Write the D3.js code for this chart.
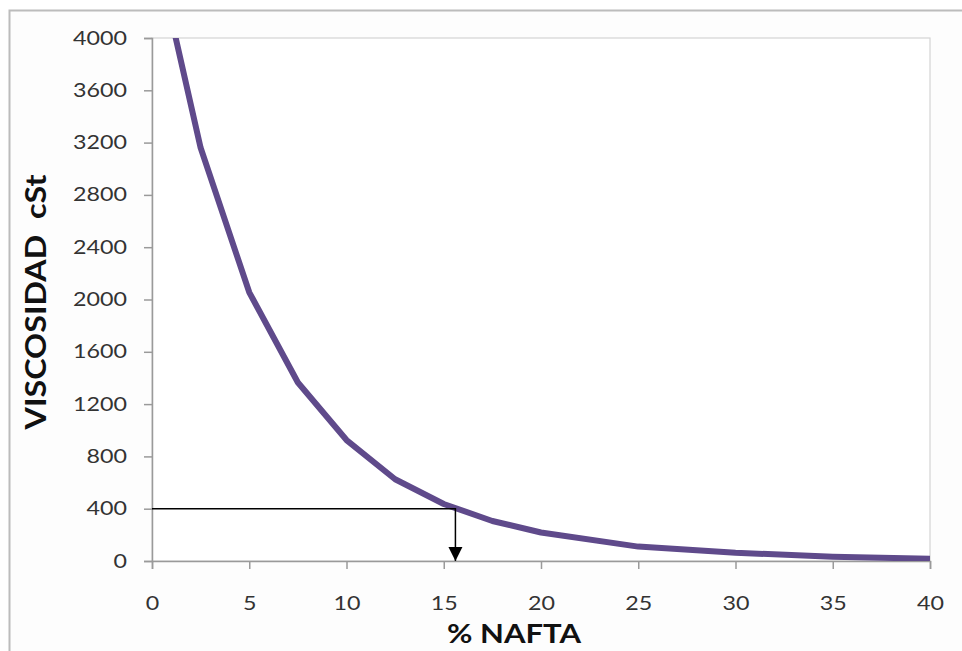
<!DOCTYPE html>
<html>
<head>
<meta charset="utf-8">
<script src="https://cdn.jsdelivr.net/npm/d3@7"></script>
<style>
  html, body { margin: 0; padding: 0; background: #fff; }
  svg { display: block; }
</style>
</head>
<body>
<svg id="chart" width="962" height="651"></svg>
<script>
// Viscosity of the blend against naphtha percentage
const nafta = [0, 2.5, 5, 7.5, 10, 12.5, 15, 17.5, 20, 25, 30, 35, 40];
const viscosity = [4800, 3160, 2055, 1365, 925, 625, 436, 306, 218, 110, 63, 33, 17];

// Reading: 400 cSt → % naphtha
const readNafta = 15.6;
const readVisc = 400;

const xTicks = [0, 5, 10, 15, 20, 25, 30, 35, 40];
const yTicks = [0, 400, 800, 1200, 1600, 2000, 2400, 2800, 3200, 3600, 4000];

const xTitle = "% NAFTA";
const yTitle = "VISCOSIDAD  cSt";

const svg = d3.select("#chart");
const W = 962, H = 651;
const plot = { left: 152, right: 930, top: 38, bottom: 561 };

const x = d3.scaleLinear().domain([0, 40]).range([plot.left, plot.right]);
const y = d3.scaleLinear().domain([0, 4000]).range([plot.bottom, plot.top]);

const font = "Lato, 'Open Sans', 'Liberation Sans', sans-serif";
const digitW = 13.5;

// Outer chart frame
svg.append("rect")
  .attr("x", 9.5).attr("y", 10.5)
  .attr("width", W + 10).attr("height", H + 10)
  .attr("fill", "#fdfdfd")
  .attr("stroke", "#bcbcbc").attr("stroke-width", 2);

// Plot area
svg.append("rect")
  .attr("x", plot.left).attr("y", plot.top)
  .attr("width", plot.right - plot.left).attr("height", plot.bottom - plot.top)
  .attr("fill", "#fff")
  .attr("stroke", "#d4d4d4").attr("stroke-width", 1.2);

svg.append("defs").append("clipPath").attr("id", "plotClip")
  .append("rect")
  .attr("x", plot.left).attr("y", plot.top)
  .attr("width", plot.right - plot.left).attr("height", plot.bottom - plot.top);

// Axes
const yAxis = d3.axisLeft(y).tickValues(yTicks).tickSize(8).tickPadding(17).tickFormat(d3.format("d"));
const xAxis = d3.axisBottom(x).tickValues(xTicks).tickSize(8).tickPadding(28).tickFormat(d3.format("d"));

const gy = svg.append("g").attr("transform", `translate(${plot.left},0)`).call(yAxis);
const gx = svg.append("g").attr("transform", `translate(0,${plot.bottom})`).call(xAxis);

[gx, gy].forEach(g => {
  g.select(".domain").attr("stroke", "#9a9a9a").attr("stroke-width", 1.5);
  g.selectAll(".tick line").attr("stroke", "#9a9a9a").attr("stroke-width", 1.5);
  g.selectAll(".tick text")
    .attr("fill", "#333")
    .style("font-family", font)
    .style("font-size", "19px")
    .attr("textLength", function () { return this.textContent.length * digitW; })
    .attr("lengthAdjust", "spacingAndGlyphs");
});

// Viscosity curve
const pts = nafta.map((n, i) => [n, viscosity[i]]);
svg.append("path")
  .datum(pts)
  .attr("clip-path", "url(#plotClip)")
  .attr("fill", "none")
  .attr("stroke", "#5f4a8b")
  .attr("stroke-width", 6)
  .attr("stroke-linejoin", "round")
  .attr("d", d3.line().x(d => x(d[0])).y(d => y(d[1])));

// Reading guide with arrow
svg.append("defs").append("marker")
  .attr("id", "arrowHead")
  .attr("viewBox", "0 0 10 10")
  .attr("refX", 10).attr("refY", 5)
  .attr("markerWidth", 14).attr("markerHeight", 15)
  .attr("markerUnits", "userSpaceOnUse")
  .attr("orient", "auto")
  .append("path").attr("d", "M0,0 L10,5 L0,10 Z").attr("fill", "#000");

svg.append("path")
  .attr("fill", "none")
  .attr("stroke", "#000")
  .attr("stroke-width", 1.5)
  .attr("marker-end", "url(#arrowHead)")
  .attr("d", `M${x(0)},${y(readVisc)} H${x(readNafta)} V${y(0)}`);

// Axis titles
svg.append("text")
  .attr("x", 514)
  .attr("y", 643)
  .attr("text-anchor", "middle")
  .style("font-family", font)
  .style("font-weight", "bold")
  .style("font-size", "27px")
  .attr("fill", "#111")
  .attr("textLength", 134)
  .attr("lengthAdjust", "spacingAndGlyphs")
  .text(xTitle);

svg.append("text")
  .attr("transform", `translate(46,302) rotate(-90)`)
  .attr("text-anchor", "middle")
  .style("font-family", font)
  .style("font-weight", "bold")
  .style("font-size", "29px")
  .attr("fill", "#111")
  .style("white-space", "pre")
  .attr("textLength", 255)
  .attr("lengthAdjust", "spacingAndGlyphs")
  .text(yTitle);
</script>
</body>
</html>
